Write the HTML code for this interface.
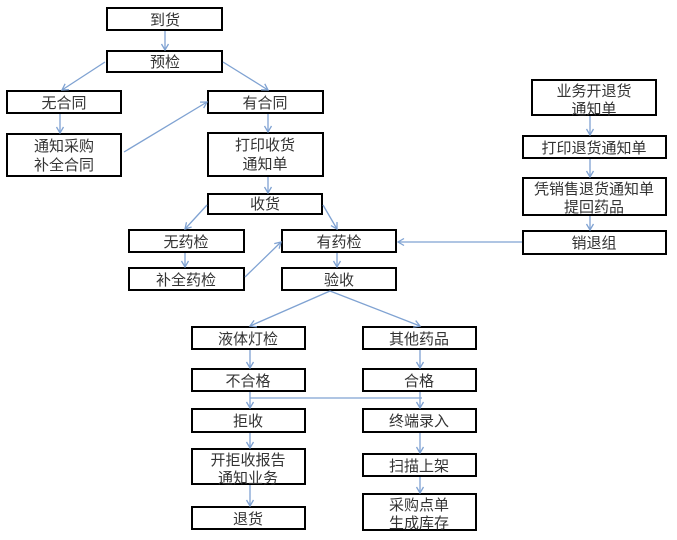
<!DOCTYPE html>
<html><head><meta charset="utf-8">
<style>
html,body{margin:0;padding:0;background:#fff;}
svg{display:block;}
text{font-family:"Liberation Sans","Noto Sans CJK SC","WenQuanYi Zen Hei",sans-serif;font-size:15px;fill:#333;text-anchor:middle;}
</style></head>
<body>
<svg width="677" height="540" viewBox="0 0 677 540" xmlns="http://www.w3.org/2000/svg">
<defs>
<marker id="a" markerUnits="userSpaceOnUse" markerWidth="10" markerHeight="10" refX="8" refY="5" orient="auto">
<path d="M2,1.5 L8,5 L2,8.5" fill="none" stroke="#7fa2d2" stroke-width="1.3"/>
</marker>
</defs>
<g fill="#fff" stroke="#000" stroke-width="2">
<rect x="107" y="8" width="115" height="22"/>
<rect x="107" y="51" width="115" height="21"/>
<rect x="7" y="91" width="114" height="22"/>
<rect x="7" y="134" width="114" height="42"/>
<rect x="208" y="91" width="115" height="22"/>
<rect x="208" y="133" width="115" height="43"/>
<rect x="208" y="194" width="114" height="20"/>
<rect x="129" y="230" width="115" height="22"/>
<rect x="282" y="230" width="114" height="22"/>
<rect x="129" y="268" width="115" height="22"/>
<rect x="282" y="268" width="114" height="22"/>
<rect x="532" y="80" width="124" height="35"/>
<rect x="523" y="136" width="143" height="22"/>
<rect x="523" y="178" width="143" height="37"/>
<rect x="523" y="231" width="143" height="23"/>
<rect x="192" y="327" width="113" height="22"/>
<rect x="363" y="327" width="113" height="22"/>
<rect x="192" y="369" width="113" height="22"/>
<rect x="363" y="369" width="113" height="22"/>
<rect x="192" y="409" width="113" height="23"/>
<rect x="363" y="409" width="113" height="23"/>
<rect x="192" y="449" width="113" height="35"/>
<rect x="363" y="454" width="113" height="22"/>
<rect x="192" y="507" width="113" height="22"/>
<rect x="363" y="494" width="113" height="36"/>
</g>
<g stroke="#7fa2d2" stroke-width="1.3" fill="none" marker-end="url(#a)">
<line x1="165" y1="31" x2="165" y2="50"/>
<line x1="105" y1="62" x2="62" y2="90"/>
<line x1="223" y1="62" x2="268" y2="90"/>
<line x1="60" y1="114" x2="60" y2="133"/>
<line x1="124" y1="152" x2="207" y2="102"/>
<line x1="268" y1="114" x2="268" y2="132"/>
<line x1="268" y1="177" x2="268" y2="193"/>
<line x1="207" y1="205" x2="185" y2="229"/>
<line x1="323" y1="205" x2="337" y2="229"/>
<line x1="185" y1="253" x2="185" y2="267"/>
<line x1="245" y1="277" x2="281" y2="242"/>
<line x1="337" y1="253" x2="337" y2="267"/>
<line x1="330" y1="291" x2="250" y2="326"/>
<line x1="330" y1="291" x2="420" y2="326"/>
<line x1="522" y1="242" x2="398" y2="242"/>
<line x1="590" y1="116" x2="590" y2="135"/>
<line x1="590" y1="159" x2="590" y2="177"/>
<line x1="590" y1="216" x2="590" y2="230"/>
<line x1="250" y1="350" x2="250" y2="368"/>
<line x1="420" y1="350" x2="420" y2="368"/>
<line x1="250" y1="392" x2="250" y2="408"/>
<line x1="420" y1="392" x2="420" y2="408"/>
<line x1="250" y1="433" x2="250" y2="448"/>
<line x1="250" y1="485" x2="250" y2="506"/>
<line x1="420" y1="433" x2="420" y2="453"/>
<line x1="420" y1="477" x2="420" y2="493"/>
</g>
<line x1="250" y1="398" x2="422" y2="398" stroke="#7fa2d2" stroke-width="1.3"/>
<g>
<text x="165" y="25">到货</text>
<text x="165" y="67">预检</text>
<text x="64" y="108">无合同</text>
<text x="64" y="151">通知采购</text>
<text x="64" y="170">补全合同</text>
<text x="265" y="108">有合同</text>
<text x="265" y="150">打印收货</text>
<text x="265" y="169">通知单</text>
<text x="265" y="209">收货</text>
<text x="186" y="247">无药检</text>
<text x="339" y="247">有药检</text>
<text x="186" y="285">补全药检</text>
<text x="339" y="285">验收</text>
<text x="594" y="96">业务开退货</text>
<text x="594" y="114">通知单</text>
<text x="594" y="153">打印退货通知单</text>
<text x="594" y="194">凭销售退货通知单</text>
<text x="594" y="212">提回药品</text>
<text x="594" y="248">销退组</text>
<text x="248" y="344">液体灯检</text>
<text x="419" y="344">其他药品</text>
<text x="248" y="386">不合格</text>
<text x="419" y="386">合格</text>
<text x="248" y="426">拒收</text>
<text x="419" y="426">终端录入</text>
<text x="248" y="465">开拒收报告</text>
<text x="248" y="483">通知业务</text>
<text x="419" y="471">扫描上架</text>
<text x="248" y="524">退货</text>
<text x="419" y="510">采购点单</text>
<text x="419" y="528">生成库存</text>
</g>
</svg>
</body></html>
